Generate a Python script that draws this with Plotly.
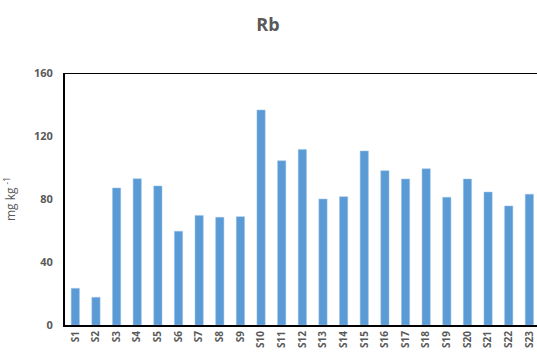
import plotly.graph_objects as go

categories = [f"S{i}" for i in range(1, 24)]
values = [23.3, 17.6, 87.0, 92.9, 88.3, 59.5, 69.6, 68.4, 68.8, 136.5, 104.3, 111.5,
          80.0, 81.5, 110.5, 98.0, 92.7, 99.2, 81.1, 92.7, 84.4, 75.6, 83.0]
y_ticks = [0, 40, 80, 120, 160]

gray = "#595959"
W, H = 537, 353
fig = go.Figure(go.Bar(
    x=categories, y=values,
    marker=dict(color="#5B9BD5", line=dict(color="#9DC3E6", width=0.5)),
))
fig.update_layout(
    width=W, height=H,
    margin=dict(l=65, r=0, t=73, b=28),
    paper_bgcolor="white", plot_bgcolor="white",
    bargap=0.6, showlegend=False,
    title=dict(text="<b>Rb</b>", x=268 / W, xanchor="center", y=1 - 25 / H, yanchor="middle",
               xref="container", font=dict(family="Open Sans", size=18, color=gray)),
    font=dict(family="Open Sans", color=gray),
)
fig.update_xaxes(
    range=[-0.5, 22.37], showgrid=False, showline=True, linecolor="black", linewidth=2,
    tickangle=-90, tickfont=dict(size=10, color=gray, family="Open Sans", weight="bold"),
    ticks="", automargin=False,
)
fig.update_yaxes(
    range=[0, 160], tickvals=y_ticks, showgrid=False, showline=True, linecolor="black",
    linewidth=2, ticks="", ticklabelstandoff=8,
    tickfont=dict(size=11, color=gray, family="Open Sans", weight="bold"),
    title=dict(text="mg kg <sup>-1</sup>", font=dict(size=12, color=gray), standoff=16),
    automargin=False, zeroline=False,
)
fig.add_shape(type="line", xref="paper", yref="y", x0=0, x1=1, y0=160, y1=160,
              line=dict(color="black", width=2))
fig.write_html("out.html", config={"displayModeBar": False},
               post_script="document.body.style.margin='0';document.body.style.overflow='hidden';")
